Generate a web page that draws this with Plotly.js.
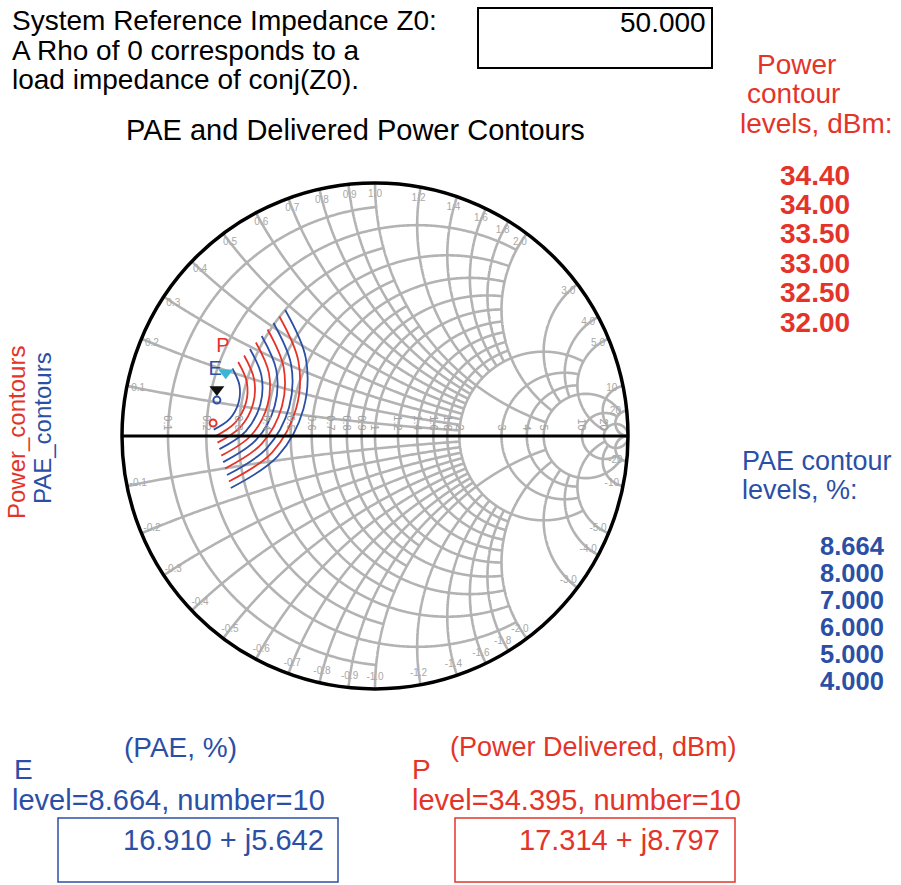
<!DOCTYPE html>
<html><head><meta charset="utf-8">
<script src="https://cdn.plot.ly/plotly-3.0.1.min.js"></script>
<style>html,body{margin:0;padding:0;background:#fff;}#chart{width:901px;height:885px;}</style>
</head><body><div id="chart"></div>
<script>
// ---------------- data ----------------
const z0Text = '50.000';
const powerLevels = ['34.40','34.00','33.50','33.00','32.50','32.00'];
const paeLevels   = ['8.664','8.000','7.000','6.000','5.000','4.000'];
const paeMarkerLevel = '8.664', paeMarkerNumber = 10, paeMarkerZ = '16.910 + j5.642';
const pwrMarkerLevel = '34.395', pwrMarkerNumber = 10, pwrMarkerZ = '17.314 + j8.797';

// contour points as reflection coefficients (rho), one row per contour level
const powerRhoRe = [
  [-0.5407,-0.5067,-0.5103,-0.5534,-0.6300],
  [-0.5174,-0.4779,-0.4818,-0.5320,-0.6225],
  [-0.4708,-0.4194,-0.4249,-0.4901,-0.6075],
  [-0.4245,-0.3613,-0.3680,-0.4482,-0.5925],
  [-0.3779,-0.3028,-0.3111,-0.4063,-0.5775]];
const powerRhoIm = [
  [0.2925,0.2130,0.1300,0.0518,-0.0004],
  [0.3182,0.2249,0.1273,0.0352,-0.0261],
  [0.3696,0.2486,0.1217,0.0020,-0.0775],
  [0.4209,0.2719,0.1162,-0.0312,-0.1285],
  [0.4723,0.2957,0.1107,-0.0644,-0.1798]];
const paeRhoRe = [
  [-0.5636,-0.5360,-0.5391,-0.5743,-0.6375],
  [-0.4941,-0.4486,-0.4534,-0.5111,-0.6150],
  [-0.4478,-0.3901,-0.3964,-0.4692,-0.6000],
  [-0.4012,-0.3320,-0.3395,-0.4273,-0.5850],
  [-0.3549,-0.2735,-0.2826,-0.3850,-0.5700]];
const paeRhoIm = [
  [0.2668,0.2016,0.1328,0.0680,0.0253],
  [0.3439,0.2368,0.1245,0.0186,-0.0518],
  [0.3953,0.2605,0.1190,-0.0146,-0.1032],
  [0.4466,0.2838,0.1134,-0.0478,-0.1542],
  [0.4980,0.3075,0.1079,-0.0806,-0.2055]];
// maximum points (tiny contours) and markers, rho
const powerMaxRho = [-0.640, 0.051];
const paeMaxRho   = [-0.625, 0.142];
const markerP_Rho = [-0.625, 0.184];   // black marker
const markerE_Rho = [-0.590, 0.250];   // cyan marker
const labelP_Rho  = [-0.601, 0.353];
const labelE_Rho  = [-0.632, 0.259];

// Smith grid (normalised values) and how far each line runs
const gridR     = [0.1,0.2,0.3,0.4,0.5,0.6,0.7,0.8,0.9,1.0,1.2,1.4,1.6,1.8,2.0,3.0,4.0,5.0,10,20];
const gridRSpan = [1,  2,  1,  2,  1,  2,  1,  2,  1,  2,  2,  2,  2,  2,  5,  5,  5,  20, 20, 1e9];
const gridX     = [0.1,0.2,0.3,0.4,0.5,0.6,0.7,0.8,0.9,1.0,1.2,1.4,1.6,1.8,2.0,3.0,4.0,5.0,10,20];
const gridXSpan = [2,  2,  2,  2,  2,  2,  2,  2,  2,  5,  2,  2,  2,  2,  5,  5,  5,  20, 20, 1e9];
const axisLabels = [0.1,0.2,0.3,0.4,0.5,0.6,0.7,0.8,0.9,1.0,1.2,1.4,1.6,1.8,2.0,3.0,4.0,5.0,10,20];

// ---------------- helpers ----------------
function rho2z(re, im){
  const dr = 1-re, di = -im, nr = 1+re, ni = im, d = dr*dr+di*di;
  return [(nr*dr+ni*di)/d, (ni*dr-nr*di)/d];
}
function convert(reArr, imArr){
  const R=[], I=[];
  for(let i=0;i<reArr.length;i++){ const z=rho2z(reArr[i], imArr[i]); R.push(z[0]); I.push(z[1]); }
  return {real:R, imag:I};
}
function rCircle(r, X){
  const c=r/(1+r), rad=1/(1+r), N=1440, re=[r], im=[Math.min(X,1e9)];
  for(let k=1;k<N;k++){
    const t=2*Math.PI*k/N, z=rho2z(c+rad*Math.cos(t), rad*Math.sin(t));
    if(Math.abs(z[1])<=X){ re.push(r); im.push(z[1]); }
  }
  re.push(r); im.push(-Math.min(X,1e9));
  return {re, im};
}
function xArc(x, R){
  const cy=1/x, rad=Math.abs(1/x), N=6000, pts=[[0,x]];
  for(let k=0;k<N;k++){
    const t=2*Math.PI*k/N, z=rho2z(1+rad*Math.cos(t), cy+rad*Math.sin(t));
    if(z[0]>=0 && z[0]<=R && isFinite(z[0])) pts.push([z[0], x]);
  }
  pts.push([Math.min(R,1e9), x]);
  pts.sort((a,b)=>a[0]-b[0]);
  return {re: pts.map(p=>p[0]), im: pts.map(p=>p[1])};
}

const GRID='#b3b3b3', RED='#e4342a', BLUE='#2c4fa6';
const traces=[];
gridR.forEach((r,i)=>{
  const g=rCircle(r, gridRSpan[i]);
  traces.push({type:'scattersmith', real:g.re, imag:g.im, mode:'lines', line:{color:GRID,width:2.6}, hoverinfo:'skip', showlegend:false});
});
gridX.forEach((x,i)=>{
  [x,-x].forEach(v=>{
    const g=xArc(v, gridXSpan[i]);
    traces.push({type:'scattersmith', real:g.re, imag:g.im, mode:'lines', line:{color:GRID,width:2.6}, hoverinfo:'skip', showlegend:false});
  });
});
// boundary reactance labels (just inside the rim)
const labRe=[], labIm=[], labTx=[];
axisLabels.forEach(v=>{
  [v,-v].forEach(s=>{
    const d=s*s+1, br=(s*s-1)/d, bi=2*s/d, f=0.955;
    const z=rho2z(br*f, bi*f);
    labRe.push(z[0]); labIm.push(z[1]);
    labTx.push((s<0?'-':'')+(Math.abs(s)<10?Math.abs(s).toFixed(1):String(Math.abs(s))));
  });
});
traces.push({type:'scattersmith', real:labRe, imag:labIm, mode:'text', text:labTx, textfont:{size:10,color:'#a8a8a8',family:'Liberation Sans, Arial'}, hoverinfo:'skip', showlegend:false});

// contours
powerRhoRe.forEach((row,i)=>{
  const z=convert(row, powerRhoIm[i]);
  traces.push({type:'scattersmith', real:z.real, imag:z.imag, mode:'lines', line:{color:RED,width:1.8,shape:'spline'}, name:powerLevels[i+1], showlegend:false});
});
paeRhoRe.forEach((row,i)=>{
  const z=convert(row, paeRhoIm[i]);
  traces.push({type:'scattersmith', real:z.real, imag:z.imag, mode:'lines', line:{color:BLUE,width:1.8,shape:'spline'}, name:paeLevels[i+1], showlegend:false});
});
function pt(rho, opts){ const z=rho2z(rho[0],rho[1]); return Object.assign({type:'scattersmith', real:[z[0]], imag:[z[1]], showlegend:false, hoverinfo:'skip'}, opts); }
traces.push(pt(powerMaxRho,{mode:'markers', marker:{symbol:'circle-open', size:7, color:RED, line:{width:2,color:RED}}}));
traces.push(pt(paeMaxRho,{mode:'markers', marker:{symbol:'circle-open', size:7, color:BLUE, line:{width:2,color:BLUE}}}));
traces.push(pt(markerP_Rho,{mode:'markers', marker:{symbol:'triangle-down', size:13, color:'#111'}}));
traces.push(pt(markerE_Rho,{mode:'markers', marker:{symbol:'triangle-down', size:13, color:'#39b6d6'}}));
traces.push(pt(labelP_Rho,{mode:'text', text:['P'], textfont:{size:20,color:RED,family:'Liberation Sans, Arial'}}));
traces.push(pt(labelE_Rho,{mode:'text', text:['E'], textfont:{size:20,color:BLUE,family:'Liberation Sans, Arial'}}));

// ---------------- layout ----------------
const W=901, H=885, FONT='Liberation Sans, Arial, sans-serif';
const px=x=>x/W, py=y=>1-y/H;
function txt(t, x, y, opt){
  return Object.assign({text:t, xref:'paper', yref:'paper', x:px(x), y:py(y), xanchor:'left', yanchor:'middle', showarrow:false,
    font:{family:FONT, size:28, color:'#000'}}, opt||{});
}
const ann=[
  txt('System Reference Impedance Z0:',10,20.5),
  txt('A Rho of 0 corresponds to a',10,50),
  txt('load impedance of conj(Z0).',10,79.5),
  txt(z0Text,708,22,{xanchor:'right'}),
  txt('PAE and Delivered Power Contours',355,130,{xanchor:'center',font:{family:FONT,size:29,color:'#000'}}),
  txt('Power',755,64,{font:{family:FONT,size:28,color:RED}}),
  txt('contour',745,93.5,{font:{family:FONT,size:28,color:RED}}),
  txt('levels, dBm:',738,123,{font:{family:FONT,size:28,color:RED}}),
  txt('PAE contour',740,461,{font:{family:FONT,size:27,color:BLUE}}),
  txt('levels, %:',740,490,{font:{family:FONT,size:27,color:BLUE}}),
  txt('Power_contours',16,433,{xanchor:'center',textangle:-90,font:{family:FONT,size:24,color:RED}}),
  txt('PAE_contours',42,428,{xanchor:'center',textangle:-90,font:{family:FONT,size:24,color:BLUE}}),
  txt('(PAE, %)',180,747,{xanchor:'center',font:{family:FONT,size:28,color:BLUE}}),
  txt('E',12,769,{font:{family:FONT,size:28,color:BLUE}}),
  txt('level='+paeMarkerLevel+', number='+paeMarkerNumber,10,800,{font:{family:FONT,size:29,color:BLUE}}),
  txt(paeMarkerZ,326,840,{xanchor:'right',font:{family:FONT,size:29,color:BLUE}}),
  txt('(Power Delivered, dBm)',593,747,{xanchor:'center',font:{family:FONT,size:27,color:RED}}),
  txt('P',410,769,{font:{family:FONT,size:28,color:RED}}),
  txt('level='+pwrMarkerLevel+', number='+pwrMarkerNumber,410,800,{font:{family:FONT,size:29,color:RED}}),
  txt(pwrMarkerZ,722,840,{xanchor:'right',font:{family:FONT,size:29,color:RED}})
];
powerLevels.forEach((l,i)=>ann.push(txt('<b>'+l+'</b>',778,175+i*29.4,{font:{family:FONT,size:28,color:RED}})));
paeLevels.forEach((l,i)=>ann.push(txt('<b>'+l+'</b>',818,546+i*27,{font:{family:FONT,size:25.5,color:BLUE}})));

function rect(x0,y0,x1,y1,c,w){ return {type:'rect',xref:'paper',yref:'paper',x0:px(x0),x1:px(x1),y0:py(y1),y1:py(y0),line:{color:c,width:w}}; }
const layout={
  width:W, height:H, margin:{l:0,r:0,t:0,b:0}, paper_bgcolor:'#fff', showlegend:false,
  font:{family:FONT},
  smith:{
    domain:{x:[122/W,628/W], y:[1-690/H,1-182/H]},
    bgcolor:'#fff',
    realaxis:{tickvals:axisLabels, ticktext:axisLabels.map(v=>v<10?v.toFixed(1):String(v)), showgrid:false, showline:true, linecolor:'#000', linewidth:3,
      tickfont:{size:11,color:'#a0a0a0',family:FONT}, tickangle:90, side:'top', ticks:''},
    imaginaryaxis:{showgrid:false, showline:true, linecolor:'#000', linewidth:3.5, showticklabels:false, ticks:''}
  },
  annotations:ann,
  shapes:[rect(478,8,712,68,'#000',2), rect(58,818,338,882,BLUE,1.5), rect(455,818,735,882,RED,1.5)]
};
Plotly.newPlot('chart', traces, layout, {staticPlot:true, displayModeBar:false});
</script></body></html>
